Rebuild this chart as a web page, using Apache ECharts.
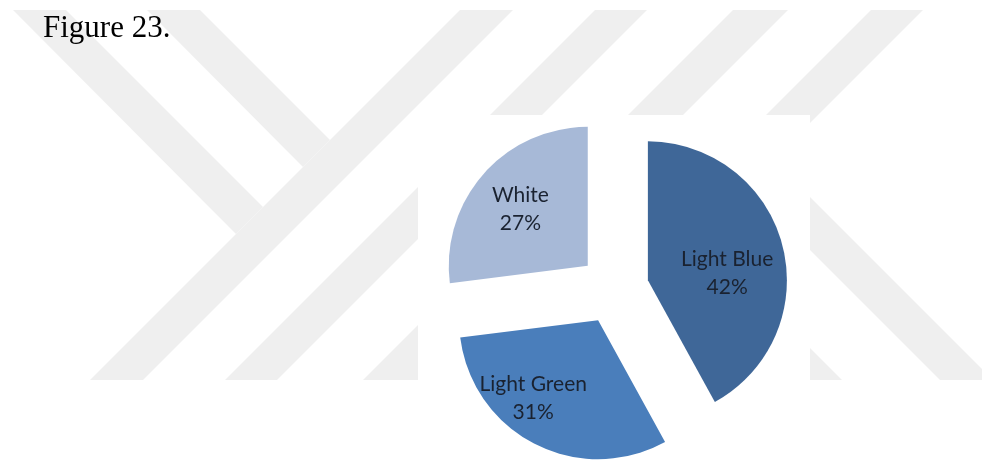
<!DOCTYPE html>
<html>
<head>
<meta charset="utf-8">
<script src="https://cdn.jsdelivr.net/npm/echarts@6/dist/echarts.min.js"></script>
<style>
  html, body { margin: 0; padding: 0; background: #fff; }
  #chart { width: 982px; height: 461px; }
</style>
</head>
<body>
<div id="chart"></div>
<script>
// pie data
var categories = ['Light Blue', 'Light Green', 'White'];
var shares = [42, 31, 27];
var sliceColors = ['#3f6798', '#4a7ebb', '#a7b9d7'];

// watermark stripes behind the figure (page decoration)
var stripeColor = '#efefef';
var stripes = [
  [[460, 10], [513, 10], [143, 380], [90, 380]],
  [[13, 10], [66, 10], [263, 207], [236, 234]],
  [[147, 10], [200, 10], [330, 140], [303, 167]],
  [[595, 10], [647, 10], [277, 380], [225, 380]],
  [[733, 10], [788, 10], [418, 380], [363, 380]],
  [[871, 10], [923, 10], [553, 380], [501, 380]],
  [[745, 185], [798, 185], [993, 380], [940, 380]],
  [[659, 250], [712, 250], [842, 380], [789, 380]]
];

// nudges so labels sit where Excel put them
var labelShift = [[9, 11], [-32, 13], [-13, -9]];

var chart = echarts.init(document.getElementById('chart'));

var graphics = stripes.map(function (pts) {
  return {
    type: 'polygon',
    z: 0,
    silent: true,
    shape: { points: pts },
    style: { fill: stripeColor }
  };
});
// white plot area of the pasted chart
graphics.push({
  type: 'rect',
  z: 1,
  silent: true,
  shape: { x: 418, y: 115, width: 392, height: 346 },
  style: { fill: '#ffffff' }
});

var option = {
  backgroundColor: '#ffffff',
  animation: false,
  title: {
    text: 'Figure 23.',
    left: 38,
    top: 8,
    textStyle: {
      fontFamily: 'Liberation Serif',
      fontSize: 31,
      fontWeight: 'normal',
      color: '#000'
    }
  },
  graphic: graphics,
  series: [{
    type: 'pie',
    center: [614, 289],
    radius: 139,
    startAngle: 90,
    clockwise: true,
    selectedMode: 'multiple',
    selectedOffset: 35,
    silent: true,
    emphasis: { disabled: true },
    label: {
      show: true,
      position: 'inside',
      formatter: '{b}\n{c}%',
      fontFamily: 'Lato',
      fontSize: 21,
      lineHeight: 28,
      color: '#1a2230'
    },
    labelLine: { show: false },
    labelLayout: function (p) {
      var s = labelShift[p.dataIndex];
      return { dx: s[0], dy: s[1] };
    },
    itemStyle: { borderWidth: 0 },
    data: categories.map(function (name, i) {
      return {
        name: name,
        value: shares[i],
        selected: true,
        itemStyle: { color: sliceColors[i] }
      };
    })
  }]
};

chart.setOption(option);
</script>
</body>
</html>
